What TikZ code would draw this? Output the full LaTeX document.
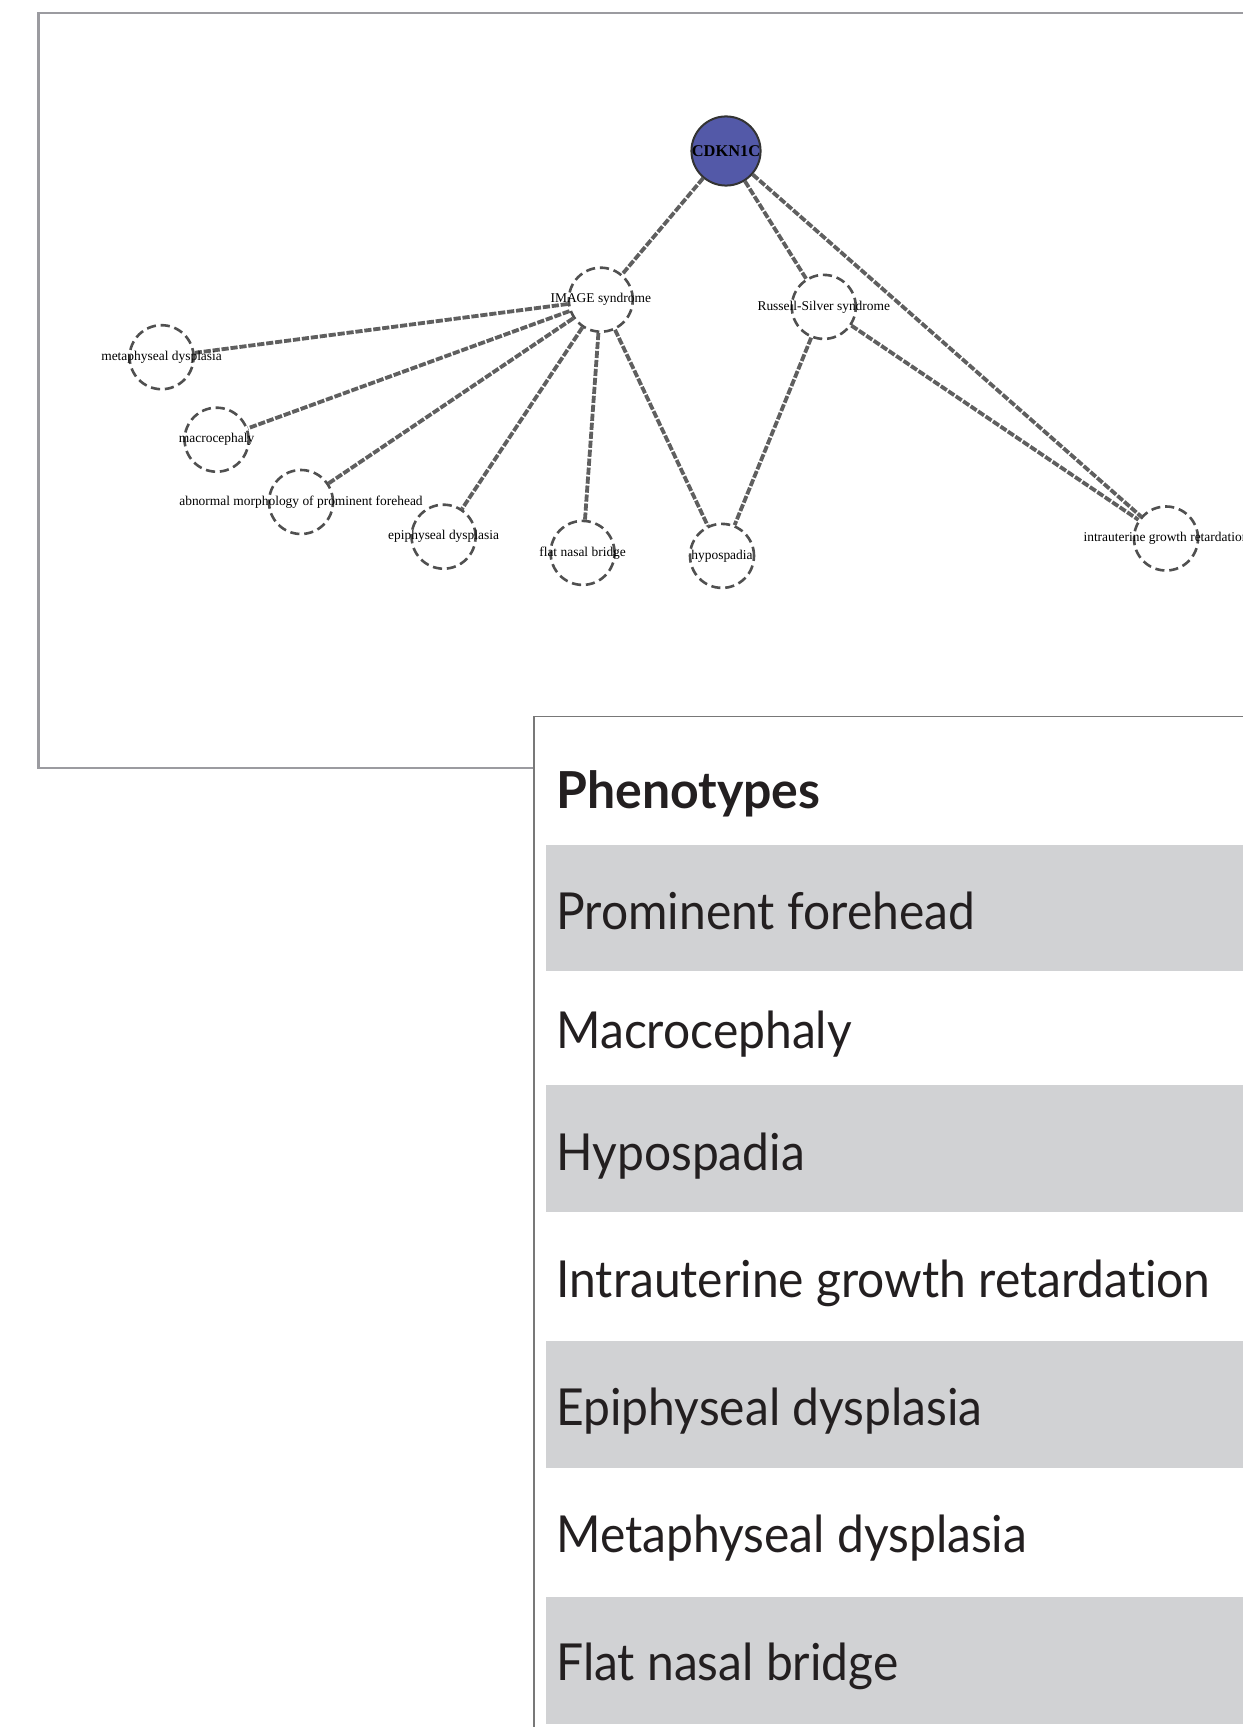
\documentclass[tikz,border=0pt]{standalone}
\usepackage{fontspec}
\setmainfont{Liberation Serif}
\newfontfamily\phfont[FakeStretch=0.94,Ligatures=NoCommon]{Lato}
\newfontfamily\phhead[FakeStretch=0.98]{Lato}
\definecolor{geneblue}{RGB}{83,89,168}
\definecolor{edgegray}{RGB}{95,95,95}
\definecolor{circgray}{RGB}{80,80,80}
\definecolor{framegray}{RGB}{155,155,160}
\definecolor{panelgray}{RGB}{120,120,120}
\definecolor{bandgray}{RGB}{209,210,212}
\definecolor{textdark}{RGB}{35,31,32}
\newcommand\labfont{\fontsize{6.72}{8}\selectfont}
\newcommand\genefont{\bfseries\fontsize{8.2}{9}\selectfont}
\newcommand\itemfont{\phfont\fontsize{25.5}{30}\selectfont}
\newcommand\headfont{\phhead\bfseries\fontsize{25.5}{30}\selectfont}
\pgfdeclarelayer{bg}
\pgfsetlayers{bg,main}
\begin{document}
\begin{tikzpicture}[x=0.5pt,y=-0.5pt,
  edge/.style={draw=edgegray, line width=1.9pt, dash pattern=on 3.6pt off 0.9pt},
  pheno/.style={circle, draw=circgray, line width=1.3pt, dash pattern=on 4.6pt off 2.4pt, minimum size=32pt, inner sep=0pt},
  gene/.style={circle, draw=black!80, line width=1pt, fill=geneblue, minimum size=33pt, inner sep=0pt, font=\genefont},
  every label/.style={font=\labfont, inner sep=0pt, text=black},
  item/.style={anchor=base west, inner sep=0pt, font=\itemfont, text=textdark},
  head/.style={anchor=base west, inner sep=0pt, font=\headfont, text=textdark},
  band/.style={fill=bandgray, draw=none}]
\useasboundingbox (0,0) rectangle (1242,1727);
\begin{pgfonlayer}{bg}
\fill[white] (0,0) rectangle (1242,1727);
\draw[framegray, line width=1.4pt] (1260,13) -- (38.5,13) -- (38.5,768) -- (1260,768);
\end{pgfonlayer}
% graph nodes
\node[gene] (cdkn) at (726,151) {CDKN1C};
\node[pheno, label={center:IMAGE syndrome}] (image) at (600.8,299.7) {};
\node[pheno, label={center:Russell-Silver syndrome}] (rss) at (823.8,306.9) {};
\node[pheno, label={center:metaphyseal dysplasia}] (meta) at (161.6,357.2) {};
\node[pheno, label={center:macrocephaly}] (macro) at (216.6,439.7) {};
\node[pheno, label={center:epiphyseal dysplasia}] (epi) at (443.6,536.7) {};
\node[pheno, label={center:abnormal morphology of prominent forehead}] (forehead) at (301,502) {};
\node[pheno, label={center:flat nasal bridge}] (flat) at (582.6,552.9) {};
\node[pheno, label={center:hypospadia}] (hypo) at (722,555.9) {};
\node[pheno, label={center:intrauterine growth retardation}] (iugr) at (1166,538.5) {};
% edges
\begin{pgfonlayer}{bg}
\draw[edge] (cdkn) -- (image);
\draw[edge] (cdkn) -- (rss);
\draw[edge] (cdkn) -- (iugr);
\draw[edge] (image) -- (meta);
\draw[edge] (image) -- (macro);
\draw[edge] (image) -- (forehead);
\draw[edge] (image) -- (epi);
\draw[edge] (image) -- (flat);
\draw[edge] (image) -- (hypo);
\draw[edge] (rss) -- (hypo);
\draw[edge] (rss) -- (iugr);
\end{pgfonlayer}
% phenotype panel
\fill[white] (534,716.7) rectangle (1260,1740);
\draw[panelgray, line width=0.75pt] (534,1740) -- (534,716.7) -- (1260,716.7);
\fill[band] (545.7,845) rectangle (1260,970.7);
\fill[band] (545.7,1085) rectangle (1260,1212.3);
\fill[band] (545.7,1340.7) rectangle (1260,1468.3);
\fill[band] (545.7,1596.7) rectangle (1260,1724);
\node[head] (title) at (556,808.3) {Phenotypes};
\node[item] (p1) at (556,929.3) {Prominent forehead};
\node[item] (p2) at (556,1048.3) {Macrocephaly};
\node[item] (p3) at (556,1170) {Hypospadia};
\node[item] (p4) at (556,1297.3) {Intrauterine growth retardation};
\node[item] (p5) at (556,1425) {Epiphyseal dysplasia};
\node[item] (p6) at (556,1552.7) {Metaphyseal dysplasia};
\node[item] (p7) at (556,1680.7) {Flat nasal bridge};
\end{tikzpicture}
\end{document}
